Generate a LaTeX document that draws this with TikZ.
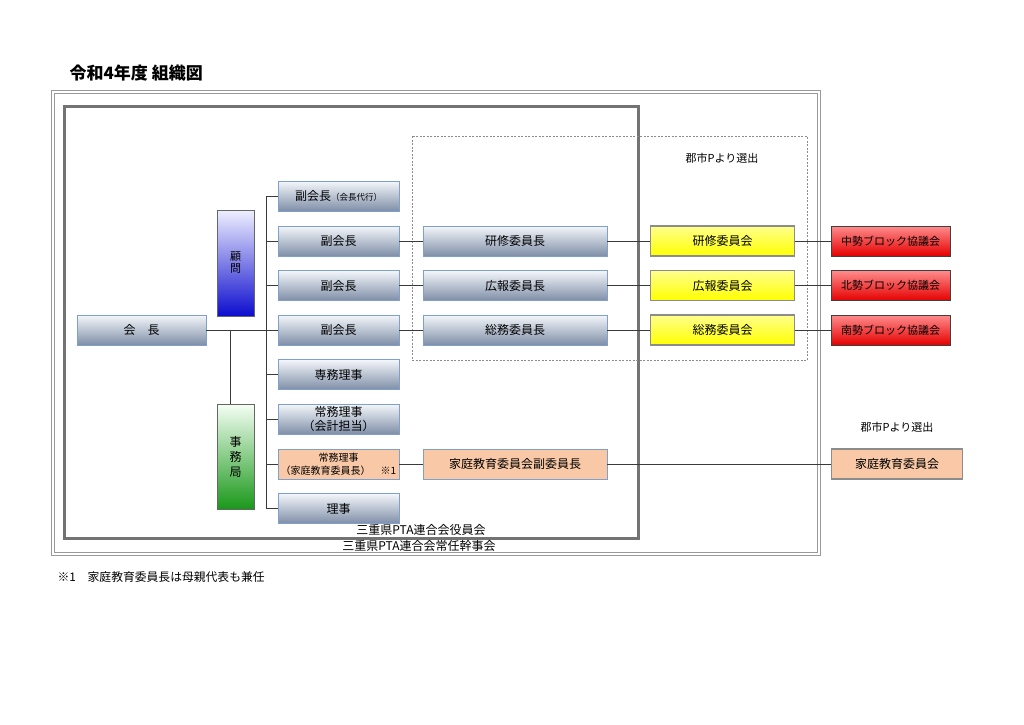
\documentclass[tikz,border=0pt]{standalone}
\usepackage{fontspec}
\usepackage{xcolor}
\usepackage{tikz}
\newfontfamily\jpfont{Noto Sans CJK JP}
\definecolor{boxtop}{HTML}{F4F7FB}
\definecolor{boxmid}{HTML}{C9D3E0}
\definecolor{boxbot}{HTML}{7F8EA7}
\definecolor{boxline}{HTML}{7FA0CA}
\definecolor{peach}{HTML}{F9C9A7}
\definecolor{linkline}{HTML}{3A3A3A}

\begin{document}
\begin{tikzpicture}[x=1pt,y=-1pt,
	yaku/.style={draw=boxline,top color=boxtop,middle color=boxmid,bottom color=boxbot,
		minimum width=121pt,minimum height=30pt,inner sep=0pt,align=center,
		font=\jpfont\fontsize{12}{14}\selectfont},
	iincho/.style={yaku,minimum width=184pt},
	peachbox/.style={yaku,fill=peach,top color=peach,middle color=peach,bottom color=peach},
	iinkai/.style={draw=black!45,line width=1.5pt,top color=yellow!45,bottom color=yellow,
		minimum width=144pt,minimum height=30pt,inner sep=0pt,
		font=\jpfont\fontsize{12}{14}\selectfont},
	block/.style={draw=black!75,top color=red!45,bottom color=red!90!black,
		minimum width=119pt,minimum height=30pt,inner sep=0pt,
		font=\jpfont\fontsize{11}{13}\selectfont},
	tatebox/.style={draw=black!60,line width=1pt,minimum width=37pt,inner sep=0pt,align=center},
	memo/.style={font=\jpfont\fontsize{11}{13}\selectfont}]
		\useasboundingbox (0,0) rectangle (1024,724);
		%
		% frames
		\draw[black!40,line width=0.9pt] (51,90) rectangle (820,555);
		\draw[black!40,line width=0.9pt] (54,93) rectangle (817,552);
		\draw[black!55,line width=3pt] (64,106) rectangle (638,538);
		\draw[black!45,dash pattern=on 2pt off 1.5pt] (412,136) rectangle (807,360);
		%
		\node[anchor=west,font=\jpfont\bfseries\fontsize{17}{20}\selectfont] (title) at (66,73) {令和4年度 組織図};
		\node[anchor=west,memo,font=\jpfont\fontsize{11.8}{14}\selectfont] (note) at (54,577) {※1　家庭教育委員長は母親代表も兼任};
		\node[memo,font=\jpfont\fontsize{12}{14}\selectfont] (yakuinkai) at (421,530) {三重県PTA連合会役員会};
		\node[memo,font=\jpfont\fontsize{12}{14}\selectfont] (kanjikai) at (419,546) {三重県PTA連合会常任幹事会};
		\node[memo] (senshutsuA) at (722,158) {郡市Pより選出};
		\node[memo] (senshutsuB) at (897,427) {郡市Pより選出};
		%
		\node[yaku,minimum width=129pt] (kaicho) at (141.5,330) {会　長};
		\node[tatebox,minimum height=106pt,top color=blue!6,bottom color=blue!80!black!95,
			font=\jpfont\fontsize{11}{12}\selectfont] (komon) at (235.5,263) {顧\\問};
		\node[tatebox,minimum height=105pt,top color=green!4,bottom color=green!55!black!90,
			font=\jpfont\fontsize{12}{15}\selectfont] (jimu) at (235.5,456.5) {事\\務\\局};
		%
		\node[yaku] (fuku0) at (338.5,196) {副会長{\fontsize{8.5}{10}\selectfont（会長代行）}};
		\node[yaku] (fuku1) at (338.5,241) {副会長};
		\node[yaku] (fuku2) at (338.5,285.5) {副会長};
		\node[yaku] (fuku3) at (338.5,330) {副会長};
		\node[yaku] (senmu) at (338.5,374.5) {専務理事};
		\node[yaku] (jomu1) at (338.5,419) {常務理事\\（会計担当）};
		\node[peachbox,font=\jpfont\fontsize{10}{13}\selectfont] (jomu2) at (338.5,464) {常務理事\\（家庭教育委員長）　※1};
		\node[yaku] (riji) at (338.5,508.5) {理事};
		%
		\node[iincho] (kenshucho) at (515,241) {研修委員長};
		\node[iincho] (kohocho) at (515,285.5) {広報委員長};
		\node[iincho] (somucho) at (515,330) {総務委員長};
		\node[peachbox,minimum width=184pt] (kateifuku) at (515,464) {家庭教育委員会副委員長};
		%
		\node[iinkai] (kenshu) at (722.5,241) {研修委員会};
		\node[iinkai] (koho) at (722.5,285.5) {広報委員会};
		\node[iinkai] (somu) at (722.5,330) {総務委員会};
		\node[iinkai,top color=peach,bottom color=peach,minimum width=131pt] (katei) at (897,464) {家庭教育委員会};
		%
		\node[block] (chusei) at (890.5,241) {中勢ブロック協議会};
		\node[block] (hokusei) at (890.5,285.5) {北勢ブロック協議会};
		\node[block] (nansei) at (890.5,330) {南勢ブロック協議会};
		%
		\coordinate (busT) at (266,196);
		\coordinate (busB) at (266,508.5);
		\coordinate (jct) at (230,330);
		%
		\path[-,draw=linkline,line width=0.8pt]
		(kaicho) edge (fuku3)
		(fuku1) edge (kenshucho)
		(fuku2) edge (kohocho)
		(fuku3) edge (somucho)
		(kenshucho) edge (kenshu)
		(kohocho) edge (koho)
		(somucho) edge (somu)
		(kenshu) edge (chusei)
		(koho) edge (hokusei)
		(somu) edge (nansei)
		(jomu2) edge (kateifuku)
		(kateifuku) edge (katei)
		(busT) edge (busB)
		(jct) edge (jct |- jimu.north);
		\foreach \n in {fuku0,fuku1,fuku2,fuku3,senmu,jomu1,jomu2,riji}
			\draw[linkline,line width=0.8pt] (\n.west) -- (\n.west -| busT);
\end{tikzpicture}
\end{document}
